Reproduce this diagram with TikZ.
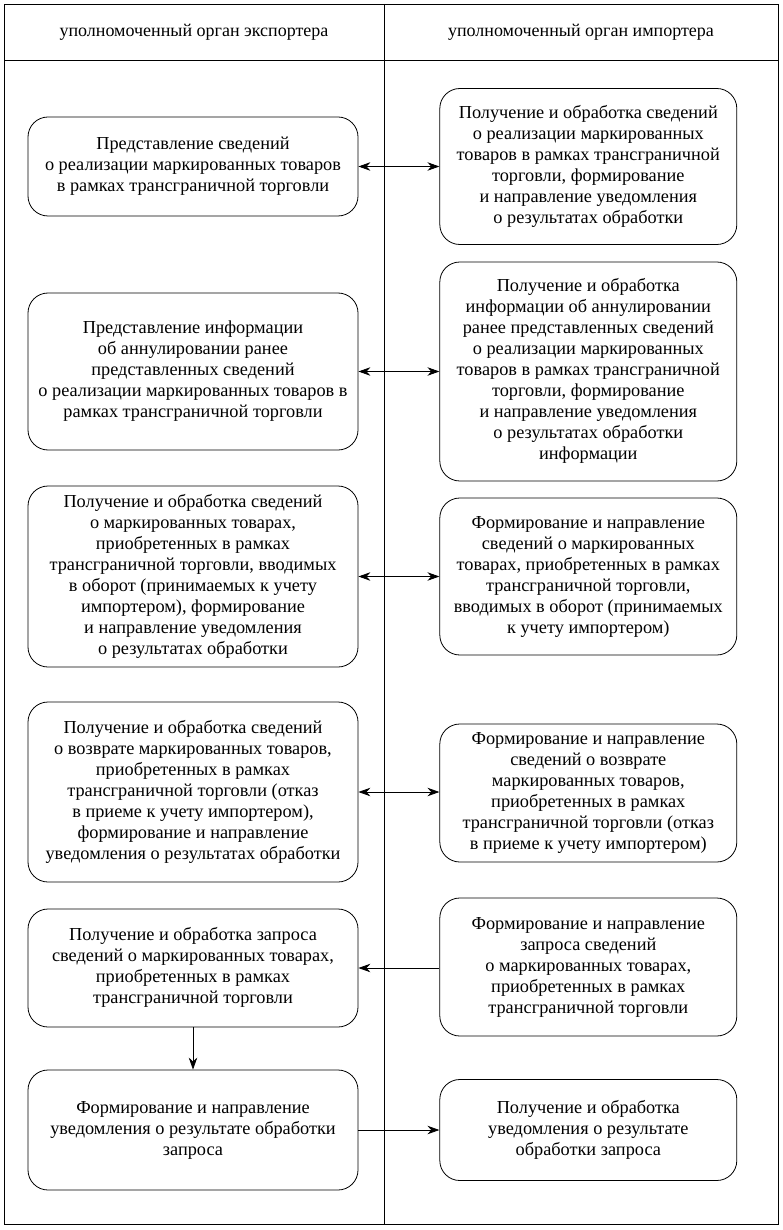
\documentclass[tikz,border=0pt]{standalone}
\usepackage{fontspec}
\setmainfont{Liberation Serif}
\usepackage{tikz}
\usetikzlibrary{arrows.meta,positioning}
\tikzset{
	stage/.style={draw, rounded corners=20pt, inner sep=0pt, align=center, font=\fontsize{18.3}{21}\selectfont},
	exporter/.style={stage, minimum width=330pt},
	importer/.style={stage, minimum width=297pt},
	head/.style={font=\fontsize{18}{21}\selectfont},
	frame/.style={line width=0.8pt},
	flow/.style={line width=0.8pt, -{Stealth[length=12pt,width=8.5pt]}},
	dflow/.style={line width=0.8pt, {Stealth[length=12pt,width=8.5pt]}-{Stealth[length=12pt,width=8.5pt]}}
}

\begin{document}
\begin{tikzpicture}[x=1pt, y=-1pt, line width=0.8pt]
			\useasboundingbox (0,0) rectangle (782,1230);
			
			% table frame
			\draw[frame] (4,4) rectangle (778,1224);
			\draw[frame] (4,60) -- (778,60);
			\draw[frame] (384,4) -- (384,1224);
			
			\node[head] (head-exp) at (194,32) {уполномоченный орган экспортера};
			\node[head] (head-imp) at (581,32) {уполномоченный орган  импортера};
			
			% exporter side
			\node[exporter, minimum height=99pt] (exp-1) at (193,166.5) {
				\begin{tabular}{c} Представление сведений \\ о реализации маркированных товаров \\ в рамках  трансграничной торговли \end{tabular}};
			\node[exporter, minimum height=157pt] (exp-2) at (193,371.5) {
				\begin{tabular}{c} Представление  информации \\ об аннулировании ранее \\ представленных сведений \\ о реализации маркированных товаров в \\ рамках трансграничной торговли \end{tabular}};
			\node[exporter, minimum height=181pt] (exp-3) at (193,576.5) {
				\begin{tabular}{c} Получение  и обработка сведений \\ о маркированных товарах, \\ приобретенных в рамках \\ трансграничной торговли, вводимых \\ в оборот (принимаемых к учету \\ импортером), формирование \\ и направление уведомления \\ о результатах обработки \end{tabular}};
			\node[exporter, minimum height=180pt] (exp-4) at (193,792) {
				\begin{tabular}{c} Получение и обработка сведений \\ о возврате маркированных товаров, \\ приобретенных в рамках \\ трансграничной торговли (отказ \\ в приеме к учету импортером), \\ формирование и направление \\ уведомления о результатах обработки \end{tabular}};
			\node[exporter, minimum height=118pt] (exp-5) at (193,968) {
				\begin{tabular}{c} Получение и обработка запроса \\ сведений о маркированных товарах, \\ приобретенных в рамках \\ трансграничной торговли \end{tabular}};
			\node[exporter, minimum height=120pt] (exp-6) at (193,1130) {
				\begin{tabular}{c} Формирование и направление \\ уведомления о результате обработки \\ запроса \end{tabular}};
			
			% importer side
			\node[importer, minimum height=156pt, right=81pt of exp-1] (imp-1) {
				\begin{tabular}{c} Получение  и обработка сведений \\ о реализации маркированных \\ товаров в рамках трансграничной \\ торговли, формирование \\ и направление уведомления \\ о результатах обработки \end{tabular}};
			\node[importer, minimum height=219pt, right=81pt of exp-2] (imp-2) {
				\begin{tabular}{c} Получение  и обработка \\ информации об аннулировании \\ ранее представленных сведений \\ о реализации маркированных \\ товаров в рамках трансграничной \\ торговли, формирование \\ и направление уведомления \\ о результатах обработки \\ информации \end{tabular}};
			\node[importer, minimum height=157pt, right=81pt of exp-3] (imp-3) {
				\begin{tabular}{c} Формирование и направление \\ сведений о маркированных \\ товарах, приобретенных в рамках \\ трансграничной торговли, \\ вводимых в оборот (принимаемых \\ к учету импортером) \end{tabular}};
			\node[importer, minimum height=138pt, right=81pt of exp-4, yshift=-1pt] (imp-4) {
				\begin{tabular}{c} Формирование и направление \\ сведений о возврате \\ маркированных товаров, \\ приобретенных в рамках \\ трансграничной торговли (отказ \\ в приеме к учету импортером) \end{tabular}};
			\node[importer, minimum height=138pt, right=81pt of exp-5, yshift=1pt] (imp-5) {
				\begin{tabular}{c} Формирование и направление \\ запроса сведений \\ о маркированных товарах, \\ приобретенных в рамках \\ трансграничной торговли \end{tabular}};
			\node[importer, minimum height=101pt, right=81pt of exp-6] (imp-6) {
				\begin{tabular}{c} Получение и обработка \\ уведомления о результате \\ обработки запроса \end{tabular}};
			
			% exchange between the two sides
			\draw[dflow] (exp-1.east) -- (exp-1.east -| imp-1.west);
			\draw[dflow] (exp-2.east) -- (exp-2.east -| imp-2.west);
			\draw[dflow] (exp-3.east) -- (exp-3.east -| imp-3.west);
			\draw[dflow] (exp-4.east) -- (exp-4.east -| imp-4.west);
			\draw[flow] (imp-5.west |- exp-5.east) -- (exp-5.east);
			\draw[flow] (exp-6.east) -- (exp-6.east -| imp-6.west);
			
			\draw[flow] (exp-5.south) -- (exp-6.north);
			
		\end{tikzpicture}
\end{document}
